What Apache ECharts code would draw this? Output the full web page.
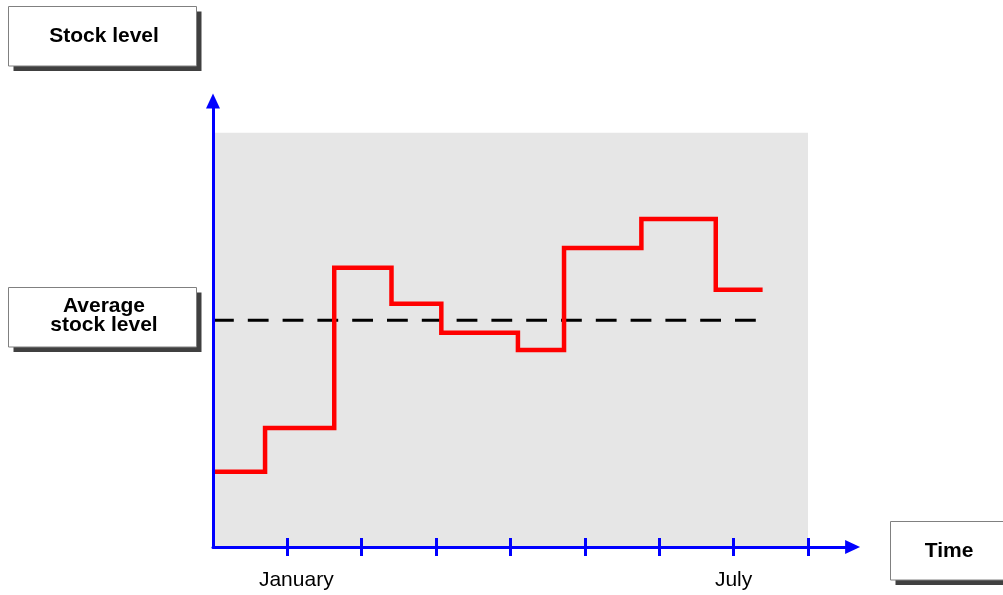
<!DOCTYPE html>
<html><head><meta charset="utf-8">
<script src="https://cdn.jsdelivr.net/npm/echarts@6/dist/echarts.min.js"></script>
<style>html,body{margin:0;padding:0;background:#fff}#c{width:1003px;height:595px}</style>
</head><body><div id="c"></div>
<script>
// Data (time in periods, stock level in arbitrary units)
const stepTimes = [0, 0.70, 1.63, 2.40, 3.07, 4.10, 4.72, 5.76, 6.76, 7.39];
const stockLevels = [18.2, 28.8, 67.6, 58.9, 51.9, 47.7, 72.4, 79.4, 62.3, 62.3];
const averageLevel = 54.9;
const averageSpan = [0, 7.30];
const periodTicks = [1, 2, 3, 4, 5, 6, 7, 8];
const monthLabels = ['January', 'July'];
const monthLabelAt = [1.12, 7];
const shadedTime = [0, 8];
const shadedLevel = [0, 100.3];
const axisMaxTime = 8.6;
const axisMaxLevel = 108;

const BLUE = '#0000ff';
const FONT = '"Liberation Sans", Arial, sans-serif';

const stepData = stepTimes.map((t, i) => [t, stockLevels[i]]);
const avgData = averageSpan.map(t => [t, averageLevel]);

function box(x, y, w, h, text, cx, cy) {
  return {
    type: 'group',
    children: [
      { type: 'rect', shape: { x: x + 5, y: y + 5, width: w, height: h }, style: { fill: '#404040' } },
      { type: 'rect', shape: { x: x, y: y, width: w, height: h }, style: { fill: '#ffffff', stroke: '#808080', lineWidth: 1 } },
      { type: 'text', x: cx, y: cy, style: { text: text, fill: '#000', font: 'bold 21px ' + FONT, align: 'center', verticalAlign: 'middle', lineHeight: 19 } }
    ]
  };
}

const gridBox = { left: 213, top: 101, right: 150.4, bottom: 48 };

const chart = echarts.init(document.getElementById('c'));
chart.setOption({
  animation: false,
  backgroundColor: '#ffffff',
  grid: [Object.assign({}, gridBox), Object.assign({}, gridBox)],
  xAxis: [
    {
      type: 'value', gridIndex: 0, min: 0, max: axisMaxTime, position: 'bottom', z: 10,
      splitLine: { show: false },
      axisLine: { show: true, onZero: true, symbol: ['none', 'triangle'], symbolSize: [14, 15], lineStyle: { color: BLUE, width: 3 } },
      axisTick: { show: true, customValues: periodTicks, length: 9, inside: false, lineStyle: { color: BLUE, width: 3 } },
      axisLabel: {
        show: true, customValues: monthLabelAt, margin: 23, color: '#000',
        fontFamily: FONT, fontSize: 21,
        formatter: function (v) {
          let best = 0;
          monthLabelAt.forEach((p, i) => { if (Math.abs(p - v) < Math.abs(monthLabelAt[best] - v)) best = i; });
          return monthLabels[best];
        }
      }
    },
    {
      type: 'value', gridIndex: 1, min: 0, max: axisMaxTime, position: 'bottom', z: 11,
      splitLine: { show: false },
      axisLine: { show: false },
      axisTick: { show: true, customValues: periodTicks, length: 9, inside: true, lineStyle: { color: BLUE, width: 3 } },
      axisLabel: { show: false }
    }
  ],
  yAxis: [
    {
      type: 'value', gridIndex: 0, min: 0, max: axisMaxLevel, z: 10,
      splitLine: { show: false },
      axisLine: { show: true, symbol: ['none', 'triangle'], symbolSize: [14, 15], lineStyle: { color: BLUE, width: 3 } },
      axisTick: { show: false },
      axisLabel: { show: false }
    },
    {
      type: 'value', gridIndex: 1, min: 0, max: axisMaxLevel, show: false
    }
  ],
  series: [
    {
      type: 'line', xAxisIndex: 0, yAxisIndex: 0, data: [], silent: true, z: 1,
      markArea: {
        silent: true,
        itemStyle: { color: '#e6e6e6' },
        data: [[{ coord: [shadedTime[0], shadedLevel[0]] }, { coord: [shadedTime[1], shadedLevel[1]] }]]
      }
    },
    {
      type: 'line', xAxisIndex: 0, yAxisIndex: 0, data: avgData, showSymbol: false, silent: true, z: 3,
      lineStyle: { color: '#000000', width: 3, type: [20.8, 14], cap: 'butt' }
    },
    {
      type: 'line', xAxisIndex: 0, yAxisIndex: 0, data: stepData, step: 'end', showSymbol: false, silent: true, z: 4,
      lineStyle: { color: '#ff0000', width: 4.5, join: 'miter' }
    }
  ],
  graphic: [
    box(8.5, 6.5, 188, 59.5, 'Stock level', 104, 36),
    box(8.5, 287.5, 188, 59.5, 'Average\nstock level', 104, 316),
    box(890.5, 521.5, 118, 58.5, 'Time', 949, 551.5)
  ]
});
</script>
</body></html>
